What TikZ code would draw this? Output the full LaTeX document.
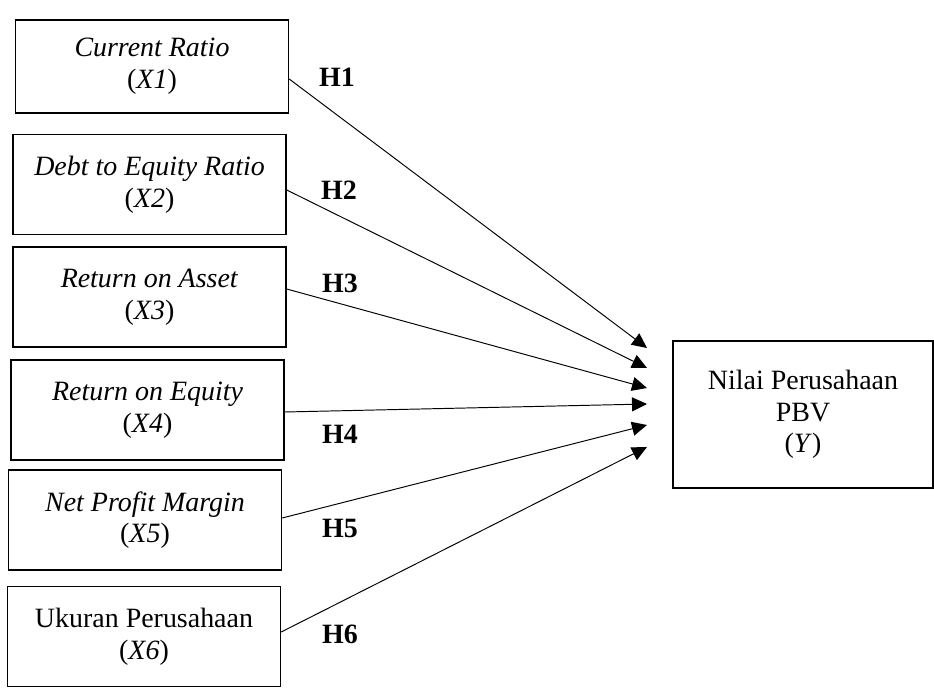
\documentclass[tikz,border=0pt]{standalone}
\usepackage{fontspec}
\setmainfont{Liberation Serif}
\usetikzlibrary{arrows.meta}

\begin{document}
\begin{tikzpicture}[> = {Triangle[length = 0.3cm, width = 0.28cm]},
	var/.style = {draw, line width = 0.8pt, align = center, inner sep = 0pt,
		minimum width = 5.46cm, minimum height = 2cm,
		font = \fontsize{15.9}{18}\selectfont},
	hyp/.style = {font = \fontsize{15.9}{18}\selectfont\bfseries}]

	\useasboundingbox (0, 0) rectangle (18.68, -13.78);

	% Independent variables

	\node [var, minimum height = 1.86cm] (x1) at (3.04, -1.33) {\textit{Current Ratio}\\(\textit{X1})};
	\node [var] (x2) at (2.99, -3.69) {\textit{Debt to Equity Ratio}\\(\textit{X2})};
	\node [var] (x3) at (2.99, -5.94) {\textit{Return on Asset}\\(\textit{X3})};
	\node [var] (x4) at (2.95, -8.20) {\textit{Return on Equity}\\(\textit{X4})};
	\node [var] (x5) at (2.90, -10.40) {\textit{Net Profit Margin}\\(\textit{X5})};
	\node [var] (x6) at (2.88, -12.73) {Ukuran Perusahaan\\(\textit{X6})};

	% Dependent variable

	\node [var, minimum width = 5.2cm, minimum height = 2.94cm] (y) at (16.06, -8.29)
		{Nilai Perusahaan\\PBV\\(\textit{Y})};

	% Hypotheses

	\foreach \i/\s/\t in {1/-0.25/-6.96, 2/-0.11/-7.36, 3/0.16/-7.76,
	                      4/-0.04/-8.08, 5/0.04/-8.50, 6/0.09/-8.94}
	{
		\coordinate (t\i) at (12.94, \t);
		\draw [->, line width = 0.55pt] ([yshift = \s cm]x\i.east) -- (t\i);
	}

	\node [hyp] (h1) at (6.74, -1.54) {H1};
	\node [hyp] (h2) at (6.78, -3.80) {H2};
	\node [hyp] (h3) at (6.80, -5.66) {H3};
	\node [hyp] (h4) at (6.80, -8.68) {H4};
	\node [hyp] (h5) at (6.80, -10.56) {H5};
	\node [hyp] (h6) at (6.80, -12.68) {H6};

\end{tikzpicture}
\end{document}
